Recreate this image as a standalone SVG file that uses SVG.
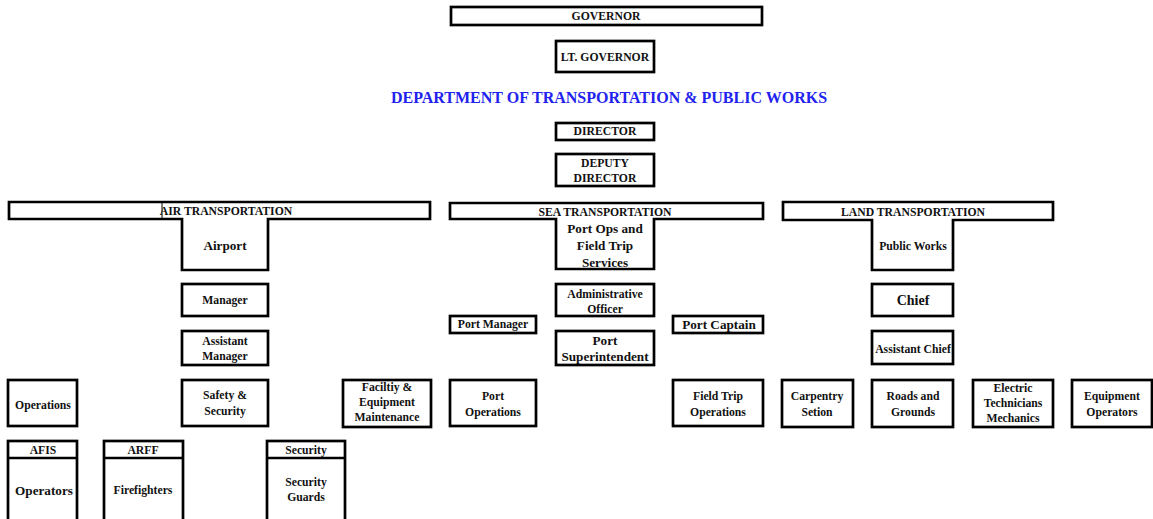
<svg xmlns="http://www.w3.org/2000/svg" width="1153" height="519" viewBox="0 0 1153 519">
  <style>
    .box { fill: #ffffff; stroke: #000000; stroke-width: 2.7; }
    .t { font-family: "Liberation Serif", "Times New Roman", serif; font-weight: bold; font-size: 11.7px; fill: #111111; text-anchor: middle; }
    .lg { font-size: 13.2px; }
    .xl { font-size: 14px; }
    .dept { font-family: "Liberation Serif", "Times New Roman", serif; font-weight: bold; font-size: 16px; fill: #2222ee; text-anchor: middle; }
  </style>
  <rect width="1153" height="519" fill="#ffffff"/>

  <!-- no connector lines are drawn in this chart -->
  <g id="connectors"></g>

  <!-- executive -->
  <g id="governor">
    <rect class="box" x="451" y="7" width="311" height="18"/>
    <text class="t" x="606" y="20">GOVERNOR</text>
  </g>
  <g id="lt-governor">
    <rect class="box" x="556" y="41" width="98" height="31"/>
    <text class="t" x="605" y="61">LT. GOVERNOR</text>
  </g>
  <text class="dept" x="609" y="103">DEPARTMENT OF TRANSPORTATION &amp; PUBLIC WORKS</text>
  <g id="director">
    <rect class="box" x="556" y="123" width="98" height="17"/>
    <text class="t" x="605" y="135">DIRECTOR</text>
  </g>
  <g id="deputy-director">
    <rect class="box" x="556" y="154" width="98" height="32"/>
    <text class="t" x="605" y="167">DEPUTY</text>
    <text class="t" x="605" y="182">DIRECTOR</text>
  </g>

  <!-- air transportation -->
  <g id="air-transportation">
    <path class="box" d="M9,202 H430 V219 H268 V270 H182 V219 H9 Z"/>
    <line x1="162" y1="203" x2="162" y2="218" stroke="#000" stroke-width="1"/>
    <text class="t" x="226" y="215">AIR TRANSPORTATION</text>
    <text class="t lg" x="225" y="250">Airport</text>
  </g>
  <g id="air-manager">
    <rect class="box" x="182" y="284" width="86" height="32"/>
    <text class="t" x="225" y="304">Manager</text>
  </g>
  <g id="air-assistant-manager">
    <rect class="box" x="182" y="331" width="86" height="34"/>
    <text class="t" x="225" y="345">Assistant</text>
    <text class="t" x="225" y="360">Manager</text>
  </g>
  <g id="air-operations">
    <rect class="box" x="8" y="380" width="69" height="46"/>
    <text class="t" x="43" y="409">Operations</text>
  </g>
  <g id="safety-security">
    <rect class="box" x="182" y="380" width="86" height="46"/>
    <text class="t" x="225" y="399">Safety &amp;</text>
    <text class="t" x="225" y="415">Security</text>
  </g>
  <g id="facility-maintenance">
    <rect class="box" x="343" y="380" width="88" height="47"/>
    <text class="t" x="387" y="391">Faciltiy &amp;</text>
    <text class="t" x="387" y="406">Equipment</text>
    <text class="t" x="387" y="421">Maintenance</text>
  </g>
  <g id="afis">
    <rect class="box" x="8" y="441" width="69" height="90"/>
    <line x1="8" y1="458" x2="77" y2="458" stroke="#000" stroke-width="2.7"/>
    <text class="t" x="43" y="454">AFIS</text>
    <text class="t lg" x="44" y="495">Operators</text>
  </g>
  <g id="arff">
    <rect class="box" x="104" y="441" width="79" height="90"/>
    <line x1="104" y1="458" x2="183" y2="458" stroke="#000" stroke-width="2.7"/>
    <text class="t" x="143" y="454">ARFF</text>
    <text class="t" x="143" y="494">Firefighters</text>
  </g>
  <g id="security">
    <rect class="box" x="267" y="441" width="78" height="90"/>
    <line x1="267" y1="458" x2="345" y2="458" stroke="#000" stroke-width="2.7"/>
    <text class="t" x="306" y="454">Security</text>
    <text class="t" x="306" y="486">Security</text>
    <text class="t" x="306" y="501">Guards</text>
  </g>

  <!-- sea transportation -->
  <g id="sea-transportation">
    <path class="box" d="M450,203 H763 V219 H654 V269 H556 V219 H450 Z"/>
    <text class="t" x="605" y="216">SEA TRANSPORTATION</text>
    <text class="t lg" x="605" y="233">Port Ops and</text>
    <text class="t lg" x="605" y="250">Field Trip</text>
    <text class="t lg" x="605" y="267">Services</text>
  </g>
  <g id="administrative-officer">
    <rect class="box" x="556" y="284" width="98" height="32"/>
    <text class="t" x="605" y="298">Administrative</text>
    <text class="t" x="605" y="313">Officer</text>
  </g>
  <g id="port-manager">
    <rect class="box" x="450" y="316" width="86" height="17"/>
    <text class="t" x="493" y="328">Port Manager</text>
  </g>
  <g id="port-captain">
    <rect class="box" x="673" y="316" width="90" height="17"/>
    <text class="t lg" x="719" y="329">Port Captain</text>
  </g>
  <g id="port-superintendent">
    <rect class="box" x="556" y="331" width="98" height="34"/>
    <text class="t lg" x="605" y="345">Port</text>
    <text class="t lg" x="605" y="361">Superintendent</text>
  </g>
  <g id="port-operations">
    <rect class="box" x="450" y="380" width="86" height="46"/>
    <text class="t" x="493" y="400">Port</text>
    <text class="t" x="493" y="416">Operations</text>
  </g>
  <g id="field-trip-operations">
    <rect class="box" x="673" y="380" width="90" height="46"/>
    <text class="t" x="718" y="400">Field Trip</text>
    <text class="t" x="718" y="416">Operations</text>
  </g>

  <!-- land transportation -->
  <g id="land-transportation">
    <path class="box" d="M783,202 H1053 V220 H953 V270 H872 V220 H783 Z"/>
    <text class="t" x="913" y="216">LAND TRANSPORTATION</text>
    <text class="t" x="913" y="250">Public Works</text>
  </g>
  <g id="chief">
    <rect class="box" x="872" y="284" width="81" height="32"/>
    <text class="t xl" x="913" y="305">Chief</text>
  </g>
  <g id="assistant-chief">
    <rect class="box" x="872" y="331" width="81" height="33"/>
    <text class="t" x="913" y="353">Assistant Chief</text>
  </g>
  <g id="carpentry">
    <rect class="box" x="782" y="380" width="71" height="47"/>
    <text class="t" x="817" y="400">Carpentry</text>
    <text class="t" x="817" y="416">Setion</text>
  </g>
  <g id="roads-grounds">
    <rect class="box" x="872" y="380" width="81" height="47"/>
    <text class="t" x="913" y="400">Roads and</text>
    <text class="t" x="913" y="416">Grounds</text>
  </g>
  <g id="electric-mechanics">
    <rect class="box" x="973" y="380" width="80" height="47"/>
    <text class="t" x="1013" y="392">Electric</text>
    <text class="t" x="1013" y="407">Technicians</text>
    <text class="t" x="1013" y="422">Mechanics</text>
  </g>
  <g id="equipment-operators">
    <rect class="box" x="1072" y="380" width="80" height="47"/>
    <text class="t" x="1112" y="400">Equipment</text>
    <text class="t" x="1112" y="416">Operators</text>
  </g>
</svg>
